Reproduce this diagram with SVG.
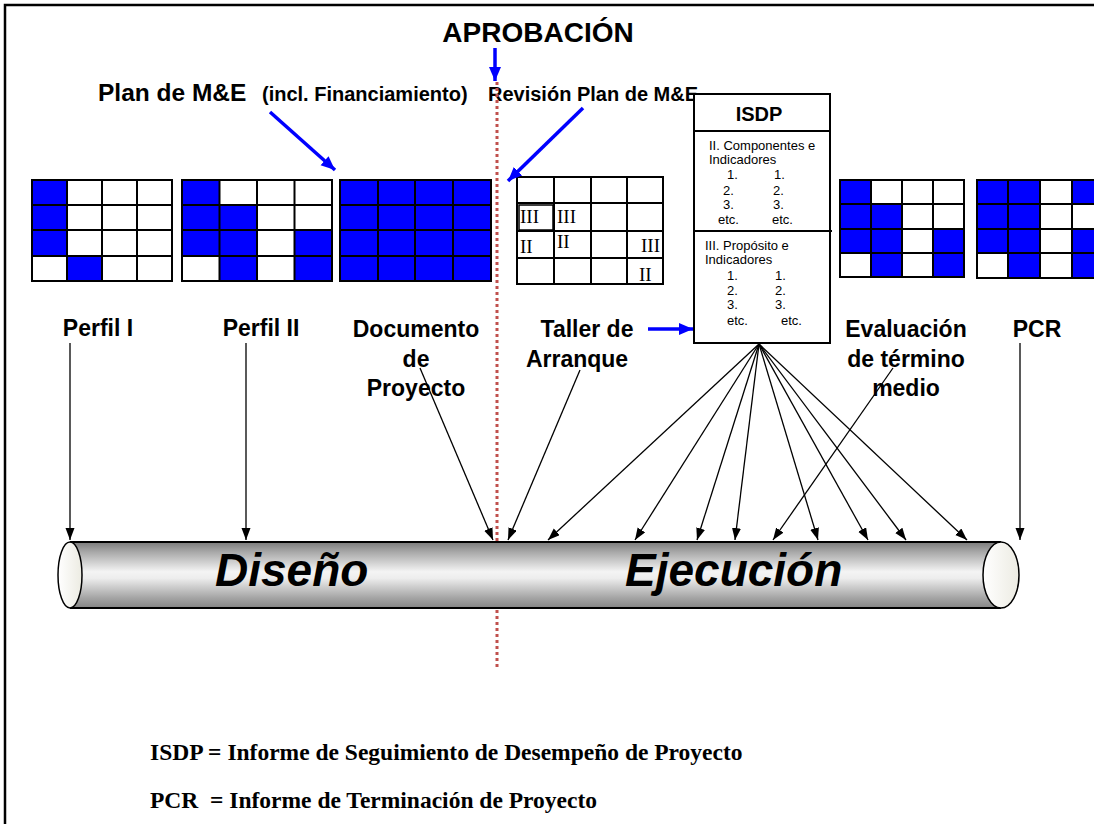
<svg xmlns="http://www.w3.org/2000/svg" width="1094" height="824" viewBox="0 0 1094 824">
<defs>
<style>
.lbl{font-family:"Liberation Sans",Arial,sans-serif;font-weight:bold;font-size:23px;fill:#000;text-anchor:middle}
.sm{font-family:"Liberation Sans",Arial,sans-serif;font-size:13px;fill:#000}
.rom{font-family:"Liberation Serif","Times New Roman",serif;font-size:19px;fill:#000}
.grid{fill:none;stroke:#000;stroke-width:2}
.b{fill:#0000FF}
.conn{stroke:#000;stroke-width:1.3;fill:none;marker-end:url(#ah)}
.blue{stroke:#0000FF;stroke-width:3.5;fill:none;marker-end:url(#bh)}
.foot{font-family:"Liberation Serif","Times New Roman",serif;font-weight:bold;font-size:23.5px;fill:#000;white-space:pre}
</style>
<marker id="ah" markerUnits="userSpaceOnUse" markerWidth="13" markerHeight="10" refX="12" refY="4.5" orient="auto"><path d="M0,0 L12,4.5 L0,9 z" fill="#000"/></marker>
<marker id="bh" markerUnits="userSpaceOnUse" markerWidth="15" markerHeight="13" refX="14" refY="6" orient="auto"><path d="M0,0 L14,6 L0,12 z" fill="#0000FF"/></marker>
<linearGradient id="cyl" x1="0" y1="0" x2="0" y2="1">
<stop offset="0" stop-color="#7a7a7a"/>
<stop offset="0.15" stop-color="#a8a8a8"/>
<stop offset="0.45" stop-color="#f4f4f4"/>
<stop offset="0.55" stop-color="#ededed"/>
<stop offset="0.85" stop-color="#a4a4a4"/>
<stop offset="1" stop-color="#858585"/>
</linearGradient>
<linearGradient id="cap" x1="0" y1="0" x2="1" y2="0">
<stop offset="0" stop-color="#ffffff"/>
<stop offset="1" stop-color="#ecebe2"/>
</linearGradient>
</defs>
<rect width="1094" height="824" fill="#fff"/>
<path d="M5,824 V5 H1094" fill="none" stroke="#000" stroke-width="2.5"/>

<g id="titulo">
<text x="538" y="42" style="font-family:'Liberation Sans',Arial,sans-serif;font-weight:bold;font-size:28px;text-anchor:middle">APROBACIÓN</text>
</g>
<g id="plan-me">
<text x="98" y="101" style="font-family:'Liberation Sans',Arial,sans-serif;font-weight:bold;font-size:24.5px">Plan de M&amp;E</text>
<text x="262" y="101" style="font-family:'Liberation Sans',Arial,sans-serif;font-weight:bold;font-size:20px">(incl. Financiamiento)</text>
</g>
<g id="revision-plan">
<text x="488" y="101" style="font-family:'Liberation Sans',Arial,sans-serif;font-weight:bold;font-size:20px">Revisión Plan de M&amp;E</text>
</g>

<line id="aprobacion-line" x1="497" y1="82" x2="497" y2="668" stroke="#C0504D" stroke-width="3" stroke-dasharray="3 3"/>

<g id="grid1">
<rect x="32" y="180" width="140" height="101" fill="#fff"/>
<rect class="b" x="32" y="180" width="35" height="76"/>
<rect class="b" x="67" y="256" width="35" height="25"/>
<path class="grid" d="M32,180 H172 V281 H32 Z M67,180 V281 M102,180 V281 M137,180 V281 M32,205 H172 M32,230 H172 M32,256 H172"/>
</g>
<g id="grid2">
<rect x="182" y="180" width="150" height="101" fill="#fff"/>
<rect class="b" x="182" y="180" width="37.5" height="76"/>
<rect class="b" x="219.5" y="205" width="37.5" height="76"/>
<rect class="b" x="294.5" y="230" width="37.5" height="51"/>
<path class="grid" d="M182,180 H332 V281 H182 Z M219.5,180 V281 M257,180 V281 M294.5,180 V281 M182,205 H332 M182,230 H332 M182,256 H332"/>
</g>
<g id="grid3">
<rect class="b" x="340" y="180" width="151" height="101"/>
<path class="grid" d="M340,180 H491 V281 H340 Z M378,180 V281 M415,180 V281 M453,180 V281 M340,205 H491 M340,230 H491 M340,256 H491"/>
</g>
<g id="grid4">
<rect x="517" y="177" width="146" height="107" fill="#fff"/>
<path class="grid" d="M517,177 H663 V284 H517 Z M554,177 V284 M591,177 V284 M627,177 V284 M517,203 H663 M517,231 H663 M517,258 H663"/>
<rect x="519" y="205" width="34" height="25" fill="none" stroke="#000" stroke-width="1.5"/>
<text class="rom" x="520" y="223">III</text>
<text class="rom" x="557" y="223">III</text>
<text class="rom" x="520" y="253">II</text>
<text class="rom" x="557" y="248">II</text>
<text class="rom" x="660" y="252" text-anchor="end">III</text>
<text class="rom" x="639" y="281">II</text>
</g>
<g id="grid5">
<rect x="840" y="180" width="124" height="97" fill="#fff"/>
<rect class="b" x="840" y="180" width="31" height="73"/>
<rect class="b" x="871" y="204" width="31" height="73"/>
<rect class="b" x="933" y="229" width="31" height="48"/>
<path class="grid" d="M840,180 H964 V277 H840 Z M871,180 V277 M902,180 V277 M933,180 V277 M840,204 H964 M840,229 H964 M840,253 H964"/>
</g>
<g id="grid6">
<rect x="977" y="180" width="127" height="98" fill="#fff"/>
<rect class="b" x="977" y="180" width="31" height="73"/>
<rect class="b" x="1008" y="180" width="32" height="98"/>
<rect class="b" x="1072" y="180" width="32" height="24"/>
<rect class="b" x="1072" y="229" width="32" height="49"/>
<path class="grid" d="M977,180 H1104 V278 H977 Z M1008,180 V278 M1040,180 V278 M1072,180 V278 M977,204 H1104 M977,229 H1104 M977,253 H1104"/>
</g>

<g id="isdp">
<rect x="694" y="94" width="136" height="249" fill="#fff" stroke="#000" stroke-width="2"/>
<line x1="694" y1="131" x2="830" y2="131" stroke="#000" stroke-width="2"/>
<line x1="694" y1="231" x2="832" y2="231" stroke="#000" stroke-width="2"/>
<text x="759" y="121" style="font-family:'Liberation Sans',Arial,sans-serif;font-weight:bold;font-size:20px;text-anchor:middle">ISDP</text>
<text class="sm" x="709" y="150">II. Componentes e</text>
<text class="sm" x="709" y="164">Indicadores</text>
<text class="sm" x="727" y="179">1.</text><text class="sm" x="774" y="179">1.</text>
<text class="sm" x="723" y="195">2.</text><text class="sm" x="773" y="195">2.</text>
<text class="sm" x="723" y="209">3.</text><text class="sm" x="773" y="209">3.</text>
<text class="sm" x="718" y="224">etc.</text><text class="sm" x="772" y="224">etc.</text>
<text class="sm" x="705" y="250">III. Propósito e</text>
<text class="sm" x="705" y="264">Indicadores</text>
<text class="sm" x="727" y="280">1.</text><text class="sm" x="775" y="280">1.</text>
<text class="sm" x="727" y="295">2.</text><text class="sm" x="775" y="295">2.</text>
<text class="sm" x="727" y="309">3.</text><text class="sm" x="775" y="309">3.</text>
<text class="sm" x="727" y="325">etc.</text><text class="sm" x="781" y="325">etc.</text>
</g>

<g id="perfil1"><text class="lbl" x="98" y="336">Perfil I</text></g>
<g id="perfil2"><text class="lbl" x="261" y="336">Perfil II</text></g>
<g id="documento"><text class="lbl" x="416" y="337">Documento</text><text class="lbl" x="416" y="367">de</text><text class="lbl" x="416" y="396">Proyecto</text></g>
<g id="taller"><text class="lbl" x="587" y="337">Taller de</text><text class="lbl" x="577" y="367">Arranque</text></g>
<g id="evaluacion"><text class="lbl" x="906" y="337">Evaluación</text><text class="lbl" x="906" y="367">de término</text><text class="lbl" x="906" y="396">medio</text></g>
<g id="pcr"><text class="lbl" x="1037" y="337">PCR</text></g>

<g id="cilindro">
<rect x="70" y="542" width="931" height="66" fill="url(#cyl)"/>
<line x1="70" y1="542" x2="1001" y2="542" stroke="#000" stroke-width="2"/>
<line x1="70" y1="608" x2="1001" y2="608" stroke="#000" stroke-width="2"/>
<ellipse cx="70" cy="575" rx="12" ry="33" fill="url(#cap)" stroke="#000" stroke-width="1.5"/>
<ellipse cx="1001" cy="575" rx="18" ry="33" fill="url(#cap)" stroke="#000" stroke-width="1.5"/>
<text x="215" y="586" style="font-family:'Liberation Sans',Arial,sans-serif;font-weight:bold;font-style:italic;font-size:46px">Diseño</text>
<text x="625" y="586" style="font-family:'Liberation Sans',Arial,sans-serif;font-weight:bold;font-style:italic;font-size:46px">Ejecución</text>
</g>

<g id="connectors">
<line class="blue" x1="495" y1="48" x2="495" y2="81"/>
<line class="blue" x1="270" y1="112" x2="335" y2="170"/>
<line class="blue" x1="583" y1="108" x2="508" y2="181"/>
<line class="blue" x1="648" y1="329" x2="693" y2="329"/>
<line class="conn" x1="70" y1="343" x2="70" y2="540"/>
<line class="conn" x1="246" y1="343" x2="246" y2="540"/>
<line class="conn" x1="420" y1="368" x2="493" y2="540"/>
<line class="conn" x1="580" y1="370" x2="508" y2="540"/>
<line class="conn" x1="759" y1="344" x2="548" y2="540"/>
<line class="conn" x1="759" y1="344" x2="635" y2="540"/>
<line class="conn" x1="759" y1="344" x2="697" y2="540"/>
<line class="conn" x1="759" y1="344" x2="735" y2="540"/>
<line class="conn" x1="759" y1="344" x2="818" y2="540"/>
<line class="conn" x1="759" y1="344" x2="868" y2="540"/>
<line class="conn" x1="759" y1="344" x2="906" y2="540"/>
<line class="conn" x1="759" y1="344" x2="967" y2="540"/>
<line class="conn" x1="893" y1="368" x2="773" y2="540"/>
<line class="conn" x1="1020" y1="343" x2="1020" y2="540"/>
</g>

<g id="leyenda">
<text class="foot" x="150" y="760">ISDP = Informe de Seguimiento de Desempeño de Proyecto</text>
<text class="foot" x="150" y="808">PCR  = Informe de Terminación de Proyecto</text>
</g>
</svg>
